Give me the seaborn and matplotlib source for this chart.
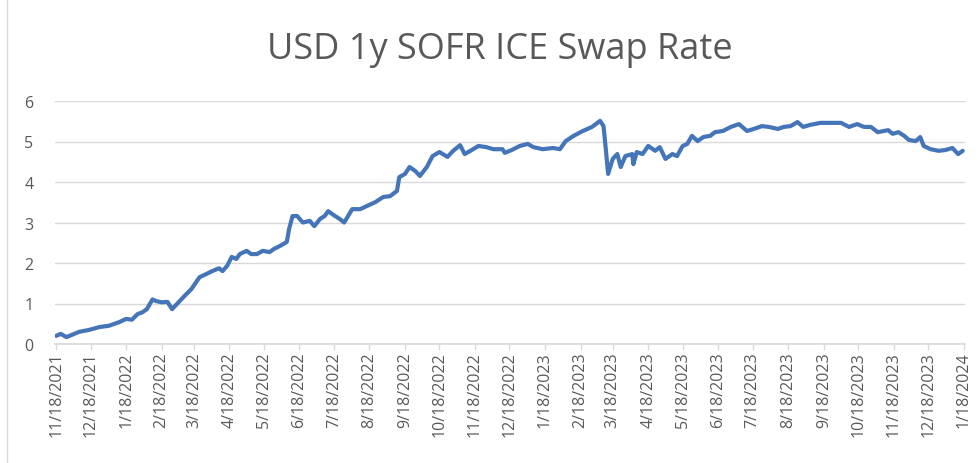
import matplotlib
matplotlib.use("Agg")
import matplotlib.pyplot as plt
import matplotlib.dates as mdates
from matplotlib.lines import Line2D
import seaborn as sns
import pandas as pd
import numpy as np

# ---- data ----
start_date = "2021-11-18"
day_offsets = [0, 4, 9, 20, 29, 38, 46, 55, 61, 66, 71, 75, 79, 84, 87, 92, 97, 101,
               107, 112, 118, 122, 125, 131, 136, 142, 145, 149, 153, 157, 160, 166,
               170, 175, 180, 186, 190, 195, 201, 203, 206, 210, 215, 221, 225, 230,
               234, 237, 243, 247, 251, 258, 265, 271, 278, 285, 291, 297, 299, 304,
               308, 313, 317, 323, 328, 334, 341, 346, 352, 356, 361, 368, 375, 381,
               389, 391, 397, 404, 411, 416, 424, 433, 439, 444, 451, 459, 467, 474,
               477, 479, 481, 485, 489, 492, 496, 502, 503, 506, 511, 516, 522, 526,
               531, 537, 541, 546, 550, 554, 559, 564, 570, 574, 581, 588, 595, 602,
               608, 615, 621, 629, 634, 640, 646, 651, 657, 666, 675, 684, 691, 698,
               704, 710, 716, 725, 729, 734, 739, 743, 749, 753, 756, 762, 769, 775,
               781, 786, 790]
rates = [0.20, 0.25, 0.17, 0.30, 0.35, 0.42, 0.45, 0.54, 0.62, 0.60, 0.74, 0.78, 0.86,
         1.10, 1.06, 1.03, 1.04, 0.86, 1.04, 1.19, 1.36, 1.53, 1.65, 1.73, 1.80, 1.87,
         1.80, 1.93, 2.15, 2.10, 2.22, 2.30, 2.22, 2.22, 2.30, 2.27, 2.35, 2.42, 2.52,
         2.84, 3.16, 3.16, 3.00, 3.04, 2.91, 3.09, 3.16, 3.28, 3.16, 3.09, 3.00, 3.33,
         3.33, 3.41, 3.50, 3.63, 3.65, 3.78, 4.12, 4.20, 4.37, 4.27, 4.15, 4.37, 4.64,
         4.74, 4.62, 4.77, 4.91, 4.69, 4.77, 4.89, 4.86, 4.81, 4.81, 4.72, 4.79, 4.89,
         4.94, 4.86, 4.81, 4.84, 4.81, 5.01, 5.14, 5.26, 5.36, 5.51, 5.38, 4.81, 4.20,
         4.57, 4.69, 4.37, 4.64, 4.69, 4.44, 4.74, 4.69, 4.89, 4.77, 4.86, 4.57, 4.69,
         4.64, 4.89, 4.94, 5.14, 5.01, 5.11, 5.14, 5.23, 5.26, 5.36, 5.43, 5.26, 5.31,
         5.38, 5.36, 5.31, 5.36, 5.38, 5.48, 5.36, 5.41, 5.46, 5.46, 5.46, 5.36, 5.43,
         5.36, 5.36, 5.23, 5.28, 5.19, 5.23, 5.14, 5.04, 5.01, 5.11, 4.89, 4.81, 4.77,
         4.79, 4.84, 4.69, 4.77]
tick_dates = ["2021-11-18", "2021-12-18", "2022-01-18", "2022-02-18", "2022-03-18",
              "2022-04-18", "2022-05-18", "2022-06-18", "2022-07-18", "2022-08-18",
              "2022-09-18", "2022-10-18", "2022-11-18", "2022-12-18", "2023-01-18",
              "2023-02-18", "2023-03-18", "2023-04-18", "2023-05-18", "2023-06-18",
              "2023-07-18", "2023-08-18", "2023-09-18", "2023-10-18", "2023-11-18",
              "2023-12-18", "2024-01-18"]
y_ticks = [0, 1, 2, 3, 4, 5, 6]
title = "USD 1y SOFR ICE Swap Rate"

df = pd.DataFrame({
    "date": pd.Timestamp(start_date) + pd.to_timedelta(day_offsets, unit="D"),
    "rate": rates,
})
ticks = pd.to_datetime(tick_dates)

sns.set_style("white")
plt.rcParams["font.family"] = ["Open Sans", "DejaVu Sans"]

fig = plt.figure(figsize=(9.77, 4.64), dpi=100)
ax = fig.add_axes([55 / 977, 119 / 464, 910 / 977, 243 / 464])

sns.lineplot(data=df, x="date", y="rate", ax=ax, color="#4575b9", linewidth=3.0,
             solid_joinstyle="round", solid_capstyle="round")

ax.set_xlim(ticks[0] - pd.Timedelta(days=1), ticks[-1] + pd.Timedelta(days=1))
ax.set_ylim(0, 6)
ax.set_yticks(y_ticks)
ax.set_yticklabels([str(v) for v in y_ticks])
ax.set_xticks(ticks)
ax.set_xticklabels([f"{d.month}/{d.day}/{d.year}" for d in ticks], rotation=90)
ax.set_xlabel("")
ax.set_ylabel("")

ax.grid(axis="y", color="#d9d9d9", linewidth=1.0)
ax.set_axisbelow(True)
for s in ["top", "right", "left"]:
    ax.spines[s].set_visible(False)
ax.spines["bottom"].set_color("#d9d9d9")
ax.spines["bottom"].set_linewidth(1.2)
ax.spines["bottom"].set_zorder(0.5)

ax.tick_params(axis="x", which="major", bottom=True, length=4, width=1.0,
               color="#d9d9d9", labelsize=11.5, labelcolor="#595959", pad=1)
ax.tick_params(axis="y", left=False, labelsize=11.5, labelcolor="#595959", pad=12)

fig.text(0.512, 0.892, title, ha="center", va="center", fontsize=26, color="#595959")

# chart border on the left edge
fig.add_artist(Line2D([7 / 977, 7 / 977], [0, 1], transform=fig.transFigure,
                      color="#d9d9d9", linewidth=1.0))

fig.savefig("out.png", dpi=100, facecolor="white")
